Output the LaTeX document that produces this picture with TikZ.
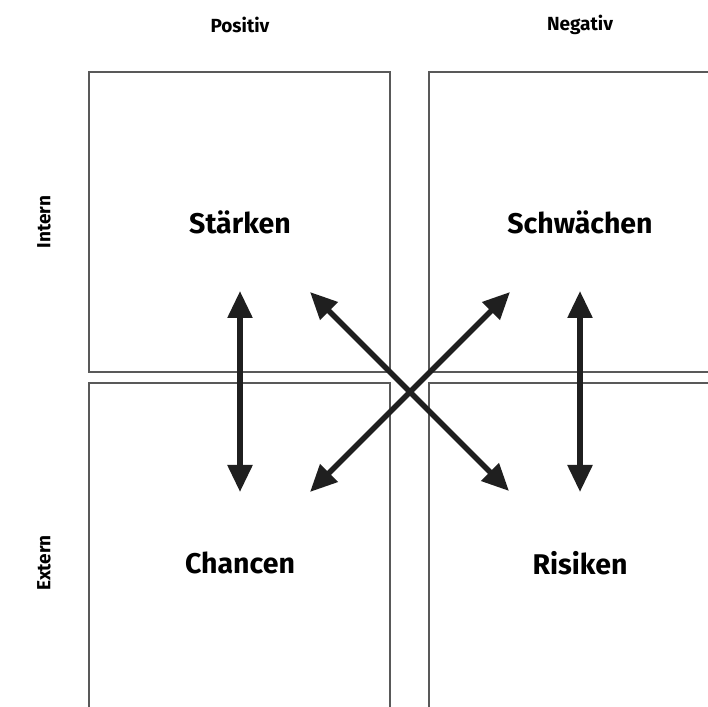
\documentclass[tikz,border=0pt]{standalone}
\usepackage{fontspec}
\setmainfont{Fira Sans}
\usetikzlibrary{arrows.meta}
\begin{document}
\begin{tikzpicture}[x=1pt,y=1pt,
  quad/.style={draw=black!65,line width=1.3pt},
  head/.style={font=\bfseries\fontsize{19}{22}\selectfont},
  big/.style={font=\bfseries\fontsize{28.5}{32}\selectfont},
  dblarrow/.style={line width=5.5pt,draw=black!88,{Triangle[width=24pt,length=27pt]}-{Triangle[width=24pt,length=27pt]}}]
\useasboundingbox (0,0) rectangle (708,706);
\clip (0,0) rectangle (708,706);
% boxes
\draw[quad] (89,634) rectangle (390,334);
\draw[quad] (429,634) rectangle (730,334);
\draw[quad] (89,-20) -- (89,323) -- (390,323) -- (390,-20);
\draw[quad] (429,-20) -- (429,323) -- (730,323);
% headers
\node[head] (pos) at (240,681) {Positiv};
\node[head] (neg) at (580,681) {Negativ};
\node[head,rotate=90] (int) at (44,484) {Intern};
\node[head,rotate=90] (ext) at (44,143) {Extern};
% quadrant labels
\node[big] (st) at (240,484) {Stärken};
\node[big] (sw) at (580,484) {Schwächen};
\node[big] (ch) at (240,143) {Chancen};
\node[big] (ri) at (580,143) {Risiken};
% arrow ends
\coordinate (a1) at (240,415);
\coordinate (a2) at (240,214);
\coordinate (b1) at (580,415);
\coordinate (b2) at (580,214);
\coordinate (c1) at (310,414);
\coordinate (c2) at (509,215);
\coordinate (d1) at (510,414);
\coordinate (d2) at (310,214);
\draw[dblarrow] (a1) -- (a2);
\draw[dblarrow] (b1) -- (b2);
\draw[dblarrow] (c1) -- (c2);
\draw[dblarrow] (d1) -- (d2);
\end{tikzpicture}
\end{document}
